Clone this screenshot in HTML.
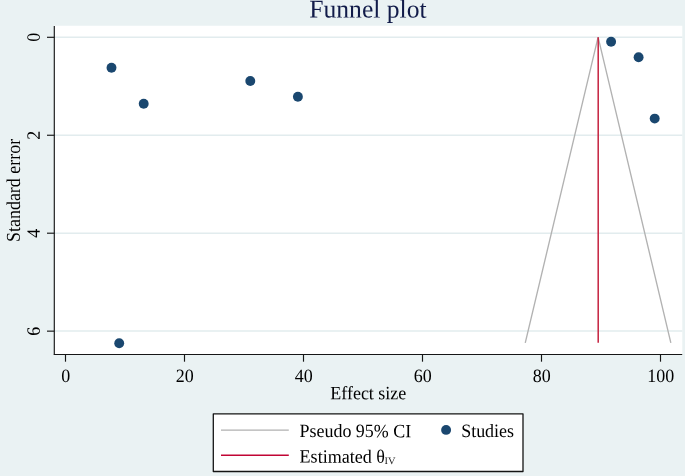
<!DOCTYPE html>
<html>
<head>
<meta charset="utf-8">
<title>Funnel plot</title>
<style>
  html, body { margin: 0; padding: 0; background: #eaf2f3; }
  body { width: 685px; height: 476px; overflow: hidden; font-family: "Liberation Serif", serif; }
  svg { display: block; will-change: transform; }
  text { font-family: "Liberation Serif", serif; fill: #000; }
</style>
</head>
<body>
<svg width="685" height="476" viewBox="0 0 685 476">
  <!-- outer background -->
  <rect x="0" y="0" width="685" height="476" fill="#eaf2f3"/>
  <!-- plot region -->
  <rect x="54.4" y="25.75" width="627.9" height="328.55" fill="#ffffff"/>

  <!-- horizontal grid lines -->
  <g stroke="#e2ecee" stroke-width="1.5">
    <line x1="55" y1="37.25" x2="682.3" y2="37.25"/>
    <line x1="55" y1="135.2" x2="682.3" y2="135.2"/>
    <line x1="55" y1="233.2" x2="682.3" y2="233.2"/>
    <line x1="55" y1="331.05" x2="682.3" y2="331.05"/>
  </g>

  <!-- funnel (pseudo 95% CI) -->
  <polyline points="525.25,342.8 598.1,37.2 670.85,342.8" fill="none" stroke="#b2b2b2" stroke-width="1.35" stroke-linejoin="miter"/>
  <!-- estimated theta -->
  <line x1="598.2" y1="37.2" x2="598.2" y2="342.8" stroke="#c5213f" stroke-width="1.5"/>

  <!-- studies -->
  <g fill="#1a476f">
    <circle cx="111.5" cy="67.8" r="4.95"/>
    <circle cx="143.7" cy="103.8" r="4.95"/>
    <circle cx="250.3" cy="81.0" r="4.95"/>
    <circle cx="297.9" cy="96.7" r="4.95"/>
    <circle cx="119.2" cy="343.3" r="4.95"/>
    <circle cx="611.1" cy="41.7" r="4.95"/>
    <circle cx="638.6" cy="57.3" r="4.95"/>
    <circle cx="654.7" cy="118.6" r="4.95"/>
  </g>

  <!-- axes -->
  <g stroke="#161616" stroke-width="1.15" fill="none">
    <line x1="54.3" y1="25.9" x2="54.3" y2="355.0"/>
    <line x1="53.85" y1="354.45" x2="682.2" y2="354.45"/>
    <!-- y ticks -->
    <line x1="47" y1="37.3" x2="54.4" y2="37.3"/>
    <line x1="47" y1="135.25" x2="54.4" y2="135.25"/>
    <line x1="47" y1="233.2" x2="54.4" y2="233.2"/>
    <line x1="47" y1="331.15" x2="54.4" y2="331.15"/>
    <!-- x ticks -->
    <line x1="65.5" y1="354.45" x2="65.5" y2="361.7"/>
    <line x1="184.5" y1="354.45" x2="184.5" y2="361.7"/>
    <line x1="303.5" y1="354.45" x2="303.5" y2="361.7"/>
    <line x1="422.5" y1="354.45" x2="422.5" y2="361.7"/>
    <line x1="541.5" y1="354.45" x2="541.5" y2="361.7"/>
    <line x1="660.5" y1="354.45" x2="660.5" y2="361.7"/>
  </g>

  <!-- title -->
  <text transform="translate(367.95,17.55) rotate(0.1)" font-size="25.6" text-anchor="middle" style="fill:#111b49">Funnel plot</text>

  <!-- y tick labels (rotated) -->
  <g font-size="18.8" text-anchor="middle">
    <text transform="translate(39.7,37.2) rotate(-89.9) scale(0.954,1)">0</text>
    <text transform="translate(39.7,135.2) rotate(-89.9) scale(0.954,1)">2</text>
    <text transform="translate(39.7,233.2) rotate(-89.9) scale(0.954,1)">4</text>
    <text transform="translate(39.7,331.2) rotate(-89.9) scale(0.954,1)">6</text>
  </g>
  <!-- y title -->
  <text transform="translate(19.95,190.4) rotate(-89.9) scale(0.92,1)" font-size="19.5" text-anchor="middle">Standard error</text>

  <!-- x tick labels -->
  <g font-size="18.8" text-anchor="middle">
    <text transform="translate(65.7,382.0) scale(0.954,1) rotate(0.1)">0</text>
    <text transform="translate(184.7,382.0) scale(0.954,1) rotate(0.1)">20</text>
    <text transform="translate(303.7,382.0) scale(0.954,1) rotate(0.1)">40</text>
    <text transform="translate(422.7,382.0) scale(0.954,1) rotate(0.1)">60</text>
    <text transform="translate(541.7,382.0) scale(0.954,1) rotate(0.1)">80</text>
    <text transform="translate(660.7,382.0) scale(0.954,1) rotate(0.1)">100</text>
  </g>
  <!-- x title -->
  <text transform="translate(368.3,399.3) scale(0.958,1) rotate(0.1)" font-size="18.8" text-anchor="middle">Effect size</text>

  <!-- legend -->
  <rect x="213.3" y="413.8" width="309.7" height="57.7" fill="#ffffff" stroke="#141414" stroke-width="1.3" stroke-linejoin="round"/>
  <line x1="221" y1="430" x2="288.8" y2="430" stroke="#b0b0b0" stroke-width="1.25"/>
  <line x1="221" y1="455.3" x2="288.8" y2="455.3" stroke="#c10534" stroke-width="1.5"/>
  <circle cx="446.1" cy="429.9" r="4.95" fill="#1a476f"/>
  <g font-size="18.8">
    <text transform="translate(299.6,437) scale(0.954,1) rotate(0.1)">Pseudo 95% CI</text>
    <text transform="translate(461.2,437) scale(0.954,1) rotate(0.1)">Studies</text>
    <text transform="translate(299.6,462.6) scale(0.960,1) rotate(0.1)">Estimated θ</text>
    <text transform="translate(384.6,464) scale(1.05,1) rotate(0.1)" font-size="9.9" style="fill:#222">IV</text>
  </g>
</svg>
</body>
</html>
